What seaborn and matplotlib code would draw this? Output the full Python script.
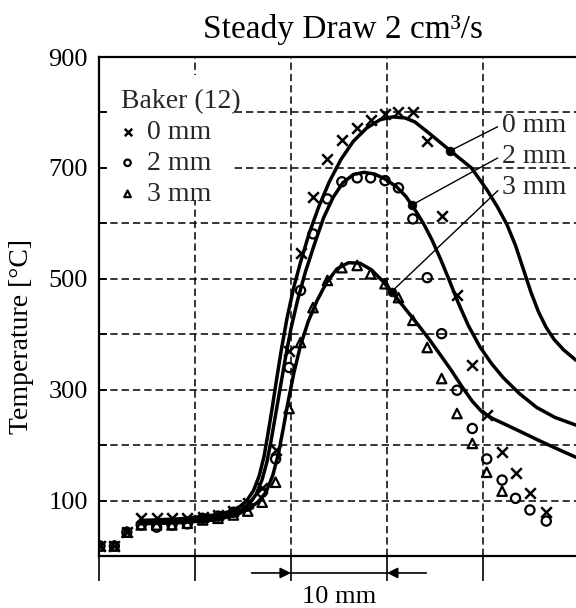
import matplotlib
matplotlib.use("Agg")
import matplotlib.pyplot as plt
import matplotlib.transforms as mtransforms
from matplotlib.patches import Rectangle
from matplotlib.ticker import MultipleLocator, FixedLocator
import seaborn as sns

# ---------------- data ----------------
# Baker (12) measurements, position in mm, temperature in deg C
baker_x = [0.1, 1.6, 2.9, 4.4, 6.0, 7.6, 9.2, 10.8, 12.4, 14.0, 15.5, 17.0, 18.4,
           19.8, 21.0, 22.3, 23.8, 25.3, 26.9, 28.3, 29.8, 31.2, 32.7, 34.2, 35.7,
           37.3, 38.9, 40.4, 42.0, 43.4, 44.9, 46.6]
baker_0mm = [18, 18, 43, 68, 68, 68, 68, 70, 74, 81, 95, 122, 191, 370, 547, 648,
             716, 751, 772, 787, 797, 801, 801, 749, 614, 470, 344, 254, 187, 149,
             113, 79]
baker_2mm = [18, 18, 43, 56, 52, 56, 58, 68, 72, 79, 90, 115, 175, 340, 479, 581,
             644, 675, 682, 682, 677, 664, 608, 502, 401, 299, 230, 175, 137, 104,
             83, 63]
baker_3mm = [18, 18, 43, 56, 56, 56, 59, 65, 68, 74, 81, 97, 133, 266, 385, 448,
             497, 520, 524, 509, 491, 466, 425, 376, 320, 257, 203, 151, 117]

# computed curves
curve0_x = [4.3, 8.4, 12.1, 13.6, 14.6, 15.4, 16.1, 16.7, 17.2, 17.6, 18.0, 18.5,
            19.0, 19.6, 20.3, 21.0, 21.9, 22.9, 24.0, 25.2, 26.5, 27.9, 29.3, 30.6,
            31.9, 32.9, 34.5, 36.6, 38.8, 40.4, 41.5, 42.5, 43.4, 44.2, 45.0, 45.8,
            46.6, 47.4, 48.4, 49.7]
curve0_T = [64, 67, 74, 80, 88, 100, 118, 145, 180, 220, 262, 318, 372, 430, 485,
            530, 582, 630, 675, 715, 748, 772, 787, 792, 790, 783, 761, 731, 700,
            661, 630, 598, 560, 518, 476, 440, 412, 391, 372, 353]
curve2_x = [4.3, 8.4, 12.1, 13.8, 14.9, 15.7, 16.4, 17.0, 17.5, 17.9, 18.3, 18.8,
            19.4, 20.0, 20.7, 21.5, 22.4, 23.4, 24.4, 25.4, 26.5, 27.6, 28.7, 29.8,
            31.0, 32.0, 32.9, 33.8, 34.7, 35.6, 36.5, 37.4, 38.5, 39.7, 40.9, 42.1,
            43.8, 45.6, 47.5, 49.7]
curve2_T = [60, 62, 68, 75, 84, 95, 112, 138, 170, 205, 245, 295, 355, 410, 462,
            512, 560, 610, 647, 673, 688, 692, 689, 680, 666, 648, 625, 600, 570,
            535, 497, 458, 415, 377, 347, 322, 293, 268, 250, 236]
curve3_x = [4.3, 8.4, 12.1, 14.3, 15.6, 16.6, 17.4, 18.1, 18.7, 19.2, 19.7, 20.3,
            21.0, 21.8, 22.7, 23.7, 24.8, 26.0, 27.2, 28.4, 29.6, 30.8, 32.0, 33.2,
            34.4, 35.6, 36.7, 37.8, 38.9, 39.9, 41.0, 42.5, 44.2, 46.0, 47.9, 49.7]
curve3_T = [58, 60, 65, 74, 85, 98, 115, 145, 185, 230, 278, 330, 380, 423, 460,
            493, 518, 529, 528, 516, 495, 470, 444, 418, 391, 362, 335, 306, 279,
            260, 248, 236, 222, 207, 192, 178]

curve_labels = ["0 mm", "2 mm", "3 mm"]
label_anchor_x = [36.6, 32.6, 30.5]
label_anchor_T = [731, 633, 477]
label_text_x = [42.0, 42.0, 42.0]
label_text_T = [776, 720, 664]

y_ticks = [100, 300, 500, 700, 900]

# ---------------- style ----------------
sns.set_theme(style="white")
plt.rcParams["font.family"] = ["Liberation Serif", "DejaVu Serif"]

fig = plt.figure(figsize=(5.76, 6.08), dpi=100)
ax = fig.add_axes([99 / 576, 1 - 556 / 608, 477 / 576, 499 / 608])

dash = (0, (4.8, 2.6))
ax.set_xlim(0, 49.7)
ax.set_ylim(0, 900)
ax.xaxis.set_major_locator(MultipleLocator(10))
ax.yaxis.set_major_locator(FixedLocator(y_ticks))
ax.yaxis.set_minor_locator(MultipleLocator(100))
ax.grid(True, axis="x", which="major", color="black", lw=1.1, ls=dash)
ax.grid(True, axis="y", which="both", color="black", lw=1.1, ls=dash)
ax.set_axisbelow(True)

# white area behind the legend text that interrupts the grid
ax.add_patch(Rectangle((0.022, 0.713), 0.255, 0.251, transform=ax.transAxes,
                       facecolor="white", edgecolor="none", zorder=1))

for xs, ys in [(curve0_x, curve0_T), (curve2_x, curve2_T), (curve3_x, curve3_T)]:
    sns.lineplot(x=xs, y=ys, ax=ax, color="black", lw=2.5, estimator=None,
                 sort=False, legend=False, zorder=3)

sns.scatterplot(x=baker_x, y=baker_0mm, marker="x", s=58, color="black",
                linewidth=1.8, ax=ax, label="0 mm", zorder=4)
sns.scatterplot(x=baker_x, y=baker_2mm, marker="o", s=44, color="black",
                facecolor="none", edgecolor="black", linewidth=1.6, ax=ax,
                label="2 mm", zorder=4)
sns.scatterplot(x=baker_x[:len(baker_3mm)], y=baker_3mm, marker="^", s=46,
                color="black", facecolor="none", edgecolor="black", linewidth=1.6,
                ax=ax, label="3 mm", zorder=4)

# curve labels with leader lines and dots
sns.scatterplot(x=label_anchor_x, y=label_anchor_T, color="black", s=40,
                edgecolor="black", ax=ax, zorder=5, legend=False)
for lab, ax_x, ax_y, tx, ty in zip(curve_labels, label_anchor_x, label_anchor_T,
                                    label_text_x, label_text_T):
    ax.annotate(lab, xy=(ax_x, ax_y), xytext=(tx, ty), fontsize=20,
                ha="left", va="center",
                arrowprops=dict(arrowstyle="-", color="black", lw=1.0,
                                shrinkA=1, shrinkB=0, relpos=(0, 0.55)))

leg = ax.legend(title="Baker (12)", loc="upper left",
                bbox_to_anchor=(0.022, 0.958), borderaxespad=0, frameon=False,
                fontsize=20, title_fontsize=20, alignment="left",
                handlelength=0.5, handletextpad=0.45, labelspacing=0.2,
                borderpad=0.4, markerscale=0.7)
leg.set_zorder(6)

# axes styling
for side in ["left", "top", "bottom"]:
    ax.spines[side].set_visible(True)
    ax.spines[side].set_color("black")
    ax.spines[side].set_linewidth(1.6)
ax.spines["right"].set_visible(False)

ax.tick_params(axis="y", which="both", direction="in", length=6, width=1.2,
               labelsize=19, pad=8, left=True, right=False, colors="black")
ax.tick_params(axis="x", which="major", direction="out", length=18, width=1.2,
               labelbottom=False, bottom=True, top=False, colors="black")
ax.set_xlabel("")
ax.set_ylabel("Temperature [°C]", fontsize=20, color="black")
ax.yaxis.set_label_coords(-0.136, 0.439)
ax.set_title("Steady Draw 2 cm³/s", fontsize=24, pad=14, x=0.511, color="black")

# 10 mm scale bar below the axis
scale_start, scale_len = 20, 10
trans = mtransforms.blended_transform_factory(ax.transData, ax.transAxes)
bar_y = -0.034
ax.plot([scale_start, scale_start + scale_len], [bar_y, bar_y], transform=trans,
        color="black", lw=1.2, clip_on=False)
ax.annotate("", xy=(scale_start, bar_y), xytext=(scale_start - 4.1, bar_y),
            xycoords=trans, textcoords=trans, annotation_clip=False,
            arrowprops=dict(arrowstyle="-|>", color="black", lw=1.2,
                            mutation_scale=16, shrinkA=0, shrinkB=0))
ax.annotate("", xy=(scale_start + scale_len, bar_y),
            xytext=(scale_start + scale_len + 4.1, bar_y),
            xycoords=trans, textcoords=trans, annotation_clip=False,
            arrowprops=dict(arrowstyle="-|>", color="black", lw=1.2,
                            mutation_scale=16, shrinkA=0, shrinkB=0))
ax.text(scale_start + scale_len / 2, -0.082, "10 mm", transform=trans,
        ha="center", va="center", fontsize=19, color="black")

fig.savefig("out.png", dpi=100)
